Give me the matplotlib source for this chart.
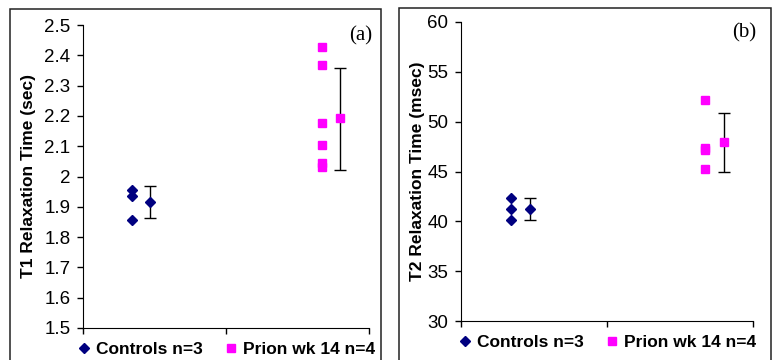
import matplotlib.pyplot as plt
from matplotlib.patches import Rectangle

# category positions (controls, prion) and offset of the mean marker
group_x = [0.34, 1.67]
mean_offset = 0.13

# T1 (sec)
t1_controls = [1.955, 1.936, 1.856]
t1_prion = [2.428, 2.368, 2.178, 2.104, 2.045, 2.033]
t1_means = [1.916, 2.192]
t1_err_lo = [0.054, 0.171]
t1_err_hi = [0.053, 0.167]

# T2 (msec)
t2_controls = [42.3, 41.2, 40.1]
t2_prion = [52.2, 47.35, 47.2, 45.3]
t2_means = [41.2, 48.0]
t2_err_lo = [1.1, 3.0]
t2_err_hi = [1.1, 2.85]

legend_labels = ["Controls n=3", "Prion wk 14 n=4"]

navy = "#000080"
magenta = "#FF00FF"

plt.rcParams['font.family'] = ['Liberation Sans', 'DejaVu Sans']

fig = plt.figure(figsize=(7.78, 3.6), dpi=100)

# panel borders
fig.patches.append(Rectangle((10 / 778, -0.1), 371 / 778, 1.1 - 9 / 360, transform=fig.transFigure,
                             fill=False, edgecolor="#222222", linewidth=1.1))
fig.patches.append(Rectangle((399 / 778, -0.1), 372 / 778, 1.1 - 8 / 360, transform=fig.transFigure,
                             fill=False, edgecolor="#222222", linewidth=1.1))


def draw_panel(ax, controls, prion, means, err_lo, err_hi, ylim, yticks, ylabel, tag, lpad):
    ax.plot([group_x[0]] * len(controls), controls, linestyle='none', marker='D',
            color=navy, markersize=5, label=legend_labels[0])
    ax.plot([group_x[1]] * len(prion), prion, linestyle='none', marker='s',
            color=magenta, markersize=6, label=legend_labels[1])
    ax.errorbar([group_x[0] + mean_offset], [means[0]], yerr=[[err_lo[0]], [err_hi[0]]],
                fmt='D', color=navy, markersize=5, ecolor='black', elinewidth=1, capsize=4, capthick=1)
    ax.errorbar([group_x[1] + mean_offset], [means[1]], yerr=[[err_lo[1]], [err_hi[1]]],
                fmt='s', color=magenta, markersize=6, ecolor='black', elinewidth=1, capsize=4, capthick=1)

    ax.set_xlim(0, 2)
    ax.set_ylim(*ylim)
    ax.set_xticks([0, 1, 2])
    ax.set_xticklabels([])
    ax.set_yticks(yticks)
    ax.set_yticklabels([f"{v:g}" for v in yticks], fontsize=13.5)
    ax.tick_params(axis='both', direction='out', length=4, width=1, color='black', pad=5)
    ax.spines['top'].set_visible(False)
    ax.spines['right'].set_visible(False)
    ax.set_ylabel(ylabel, fontsize=12.5, fontweight='bold', labelpad=lpad)
    ax.text(1.01, 0.995, tag, transform=ax.transAxes, ha='right', va='top',
            fontsize=15, family='Liberation Serif')
    ax.legend(loc='center', bbox_to_anchor=(0.5, -0.072), ncol=2, frameon=False,
              prop={'size': 12.5, 'weight': 'bold'}, handletextpad=0.3,
              columnspacing=1.2, handlelength=0.8, borderaxespad=0)


ax1 = fig.add_axes([83 / 778, 1 - 328 / 360, 286 / 778, 303 / 360])
draw_panel(ax1, t1_controls, t1_prion, t1_means, t1_err_lo, t1_err_hi,
           (1.5, 2.5), [1.5, 1.6, 1.7, 1.8, 1.9, 2.0, 2.1, 2.2, 2.3, 2.4, 2.5],
           "T1 Relaxation Time (sec)", "(a)", 6)

ax2 = fig.add_axes([461 / 778, 1 - 321 / 360, 292 / 778, 299 / 360])
draw_panel(ax2, t2_controls, t2_prion, t2_means, t2_err_lo, t2_err_hi,
           (30, 60), [30, 35, 40, 45, 50, 55, 60],
           "T2 Relaxation Time (msec)", "(b)", 2)

fig.savefig("out.png", dpi=100)
